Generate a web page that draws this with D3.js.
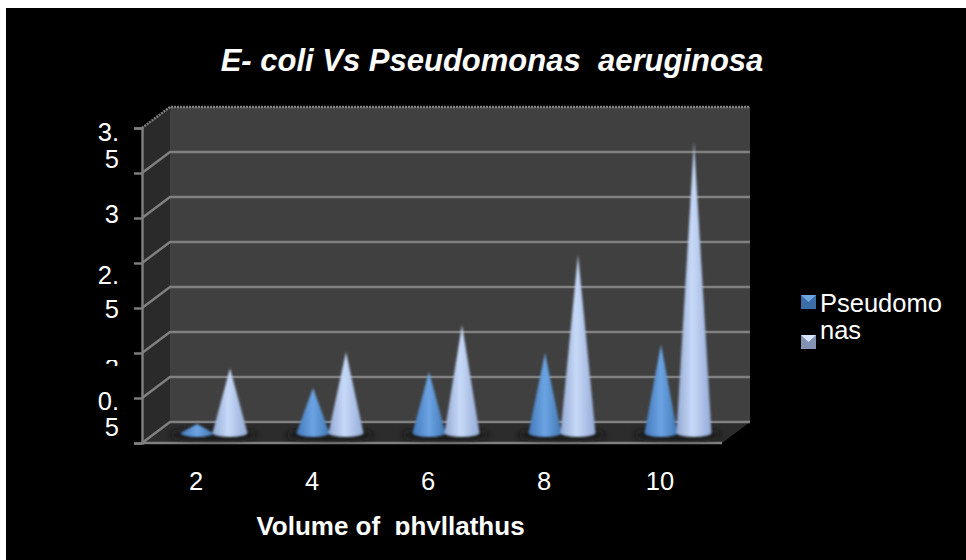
<!DOCTYPE html>
<html><head><meta charset="utf-8">
<script src="https://cdnjs.cloudflare.com/ajax/libs/d3/7.8.5/d3.min.js"></script>
<style>html,body{margin:0;padding:0;background:#fff;overflow:hidden}
text{font-family:"Liberation Sans",Arial,sans-serif;fill:#fff;white-space:pre}</style>
</head><body><div id="c"></div>
<script>
const chartTitle = "E- coli Vs Pseudomonas  aeruginosa";
const xTitle = "Volume of  phyllathus";
const categories = ["2","4","6","8","10"];
const pseudomonas = [0.1,0.5,0.68,0.89,0.98];
const ecoli = [0.72,0.9,1.2,1.98,3.23];
const yTicks = [0,0.5,1,1.5,2,2.5,3,3.5];
const legendLines = ["Pseudomo","nas"];
const yLabelValues = [3.5,3,2.5,2,0.5];
const yLabelLines = [["3.","5"],["3"],["2.","5"],["2"],["0.","5"]];

const W=966,H=560;
const left=142,right=722,dx=28,dy=21;
const svg=d3.select("#c").append("svg").attr("width",W).attr("height",H).style("display","block");
const defs=svg.append("defs");
svg.append("rect").attr("x",6).attr("y",8).attr("width",W-6).attr("height",H-8).attr("fill","#000");

const y=d3.scaleLinear().domain([0,3.5]).range([443,128]);
const x=d3.scaleBand().domain(categories).range([left-4,right-4]);

function grad(id,stops){
  const g=defs.append("linearGradient").attr("id",id).attr("x1",0).attr("x2",1).attr("y1",0).attr("y2",0);
  stops.forEach(s=>g.append("stop").attr("offset",s[0]).attr("stop-color",s[1]));
}
grad("gP",[[0,"#4479ba"],[0.5,"#6ba4e4"],[1,"#4278b4"]]);
grad("gE",[[0,"#93a9d4"],[0.45,"#c8daf8"],[1,"#94aad6"]]);
defs.append("filter").attr("id","soft").attr("x","-30%").attr("y","-5%").attr("width","160%").attr("height","110%")
  .append("feGaussianBlur").attr("stdDeviation",0.8);
defs.append("filter").attr("id","shadow").attr("x","-30%").attr("y","-80%").attr("width","160%").attr("height","260%")
  .append("feGaussianBlur").attr("stdDeviation",3);
defs.append("clipPath").attr("id","clipTitleX").append("rect").attr("x",0).attr("y",500).attr("width",W).attr("height",35);
defs.append("clipPath").attr("id","clipTick").append("rect").attr("x",90).attr("y",360).attr("width",40).attr("height",6);

// walls
const y0=y(0),yT=y(3.5);
svg.append("rect").attr("x",left+dx).attr("y",yT-dy).attr("width",right-left).attr("height",y0-yT).attr("fill","#404040");
svg.append("path").attr("d",d3.line()([[left,yT],[left+dx,yT-dy],[left+dx,y0-dy],[left,y0]])).attr("fill","#2a2a2a");
svg.append("path").attr("d",d3.line()([[left,y0],[left+dx,y0-dy],[right+dx,y0-dy],[right,y0]])).attr("fill","#2c2c2c");

// gridlines
const grid=svg.append("g").attr("stroke","#808080").attr("stroke-width",2.4).attr("fill","none");
yTicks.forEach(t=>{
  grid.append("path").attr("stroke-dasharray",t===3.5?"2 1":null)
    .attr("d",d3.line()([[left,y(t)],[left+dx,y(t)-dy],[right+dx,y(t)-dy]]));
});
grid.append("line").attr("x1",left).attr("x2",right).attr("y1",y0).attr("y2",y0);

// value axis
const ax=svg.append("g").attr("transform",`translate(${left},0)`)
  .call(d3.axisLeft(y).tickValues(yTicks).tickSize(8).tickFormat(""));
ax.selectAll("line,path").attr("stroke","#808080").attr("stroke-width",2.4);

// cones
const depth=10, off=17.5;
const bx=d=>x(d)+x.bandwidth()/2+off;
const series=[{name:"p",vals:pseudomonas,shift:-16.5,hw:16.5,fill:"url(#gP)"},
              {name:"e",vals:ecoli,shift:16.5,hw:17.5,fill:"url(#gE)"}];
const shadows=svg.append("g").attr("filter","url(#shadow)");
categories.forEach(c=>{
  shadows.append("ellipse").attr("cx",bx(c)).attr("cy",y0-depth+2).attr("rx",44).attr("ry",5).attr("fill","#181818");
});
const cones=svg.append("g").attr("filter","url(#soft)");
series.forEach(s=>{
  categories.forEach((c,i)=>{
    const cx=bx(c)+s.shift, base=y0-depth, tip=y(s.vals[i])-depth, r=s.hw, ry=4;
    cones.append("path").attr("fill",s.fill)
      .attr("d",`M${cx-r},${base}L${cx},${tip}L${cx+r},${base}A${r},${ry} 0 0 1 ${cx-r},${base}Z`);
  });
});

// value labels
const labelBaselines=[[141,168],[223],[284,318],[377],[410,436]];
yLabelLines.forEach((lines,k)=>{
  const g=svg.append("g").attr("data-value",yLabelValues[k]);
  if(yLabelValues[k]===2) g.attr("clip-path","url(#clipTick)");
  lines.forEach((t,j)=>{
    g.append("text").attr("x",119).attr("y",labelBaselines[k][j]).attr("text-anchor","end")
     .attr("font-size",25.5).text(t);
  });
});

// category axis
const xa=svg.append("g").attr("transform",`translate(0,490)`)
  .call(d3.axisBottom(x).tickSize(0).tickPadding(0));
xa.select(".domain").remove();
xa.selectAll("text").attr("font-size",25.5).attr("font-family",null).attr("fill","#fff").attr("dy",0).attr("y",0);

// titles
svg.append("text").attr("x",492).attr("y",71).attr("text-anchor","middle")
  .attr("font-size",31).attr("font-weight","bold").attr("font-style","italic").text(chartTitle);
svg.append("g").attr("clip-path","url(#clipTitleX)").append("text").attr("x",390.5).attr("y",535).attr("text-anchor","middle")
  .attr("font-size",26).attr("font-weight","bold").text(xTitle);

// legend
const swatch=[{y:295,base:"#3b6ea6",top:"#6fa6e0"},{y:335,base:"#8292b2",top:"#d6e4ff"}];
swatch.forEach(s=>{
  const g=svg.append("g").attr("transform",`translate(801,${s.y})`);
  g.append("rect").attr("width",15).attr("height",14).attr("fill",s.base);
  g.append("path").attr("d",d3.line()([[0,0],[15,0],[7.5,7]])).attr("fill",s.top);
});
legendLines.forEach((t,i)=>{
  svg.append("text").attr("x",820).attr("y",312+i*27).attr("font-size",25.5).text(t);
});
</script></body></html>
